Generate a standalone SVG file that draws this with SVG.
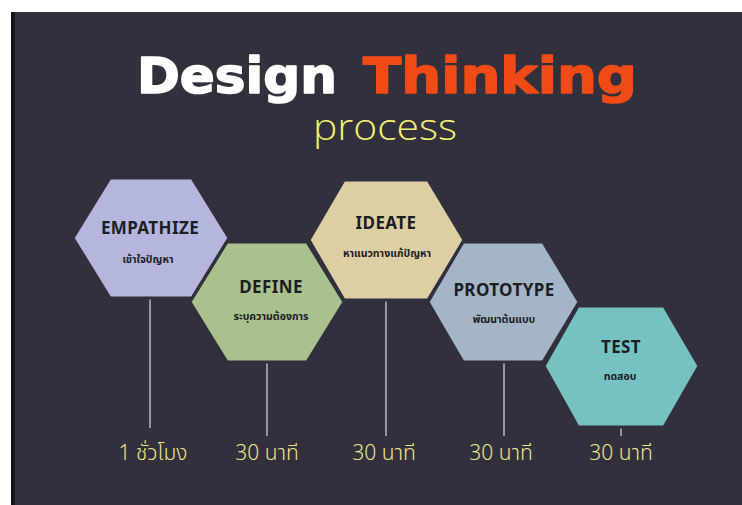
<svg xmlns="http://www.w3.org/2000/svg" width="742" height="505" viewBox="0 0 742 505">
<style>
.hex{stroke:#31303c;stroke-width:3;stroke-linejoin:miter}
.t{font-family:"Noto Sans","DejaVu Sans",sans-serif;font-weight:700;font-size:17px;fill:#1d1d24;text-anchor:middle;letter-spacing:0.4px}
.s{font-family:"Noto Sans Thai","Noto Sans","DejaVu Sans",sans-serif;font-weight:700;font-size:10.5px;fill:#1d1d24;text-anchor:middle}
.lbl{font-family:"Noto Sans Thai","Noto Sans","DejaVu Sans",sans-serif;font-weight:300;font-size:21px;fill:#ece48c;text-anchor:middle}
.ln{stroke:#b8b8c4;stroke-width:1.5;fill:none}
.ttl{font-family:"DejaVu Sans",sans-serif;font-weight:700;font-size:50px;stroke-width:1.6;stroke-linejoin:round}
</style>
<rect width="742" height="505" fill="#ffffff"/>
<rect x="11" y="12" width="731" height="493" fill="#31303c"/>
<rect x="11" y="12" width="4" height="493" fill="#141418"/>
<g id="title">
<text class="ttl" x="137" y="93" textLength="200" lengthAdjust="spacingAndGlyphs" fill="#ffffff" stroke="#ffffff">Design</text>
<text class="ttl" x="363" y="93" textLength="274" lengthAdjust="spacingAndGlyphs" fill="#f04b17" stroke="#f04b17">Thinking</text>
<text x="313" y="140" textLength="144" lengthAdjust="spacingAndGlyphs" font-family="Open Sans,Liberation Sans,sans-serif" font-weight="300" font-size="37" fill="#f3ef73">process</text>
</g>
<g id="connectors">
<line class="ln" x1="150" y1="298" x2="150" y2="428"/>
<line class="ln" x1="267" y1="362" x2="267" y2="436"/>
<line class="ln" x1="386" y1="300" x2="386" y2="436"/>
<line class="ln" x1="504" y1="362" x2="504" y2="436"/>
<line class="ln" x1="621" y1="427" x2="621" y2="436"/>
</g>
<g id="empathize">
<polygon class="hex" fill="#b4b6de" points="110,178 192,178 229,238 192,298 110,298 73,238"/>
<text class="t" x="150" y="234">EMPATHIZE</text>
<text class="s" x="148" y="263">เข้าใจปัญหา</text>
</g>
<g id="define">
<polygon class="hex" fill="#a9c18d" points="227,242 307,242 344,302 307,362 227,362 190,302"/>
<text class="t" x="271" y="293">DEFINE</text>
<text class="s" x="271" y="320">ระบุความต้องการ</text>
</g>
<g id="ideate">
<polygon class="hex" fill="#dccfa4" points="344,180 428,180 464,240 428,300 344,300 309,240"/>
<text class="t" x="386" y="229">IDEATE</text>
<text class="s" x="387" y="257">หาแนวทางแก้ปัญหา</text>
</g>
<g id="prototype">
<polygon class="hex" fill="#a3b5c6" points="463,242 543,242 579,302 543,362 463,362 428,302"/>
<text class="t" x="504" y="296">PROTOTYPE</text>
<text class="s" x="504" y="323">พัฒนาต้นแบบ</text>
</g>
<g id="test">
<polygon class="hex" fill="#76c2c3" points="578,306 664,306 699,366 664,427 578,427 544,366"/>
<text class="t" x="621" y="353">TEST</text>
<text class="s" x="620" y="380">ทดสอบ</text>
</g>
<g id="labels">
<text class="lbl" x="153" y="460">1 ชั่วโมง</text>
<text class="lbl" x="267" y="460">30 นาที</text>
<text class="lbl" x="384" y="460">30 นาที</text>
<text class="lbl" x="501" y="460">30 นาที</text>
<text class="lbl" x="621" y="460">30 นาที</text>
</g>
</svg>
